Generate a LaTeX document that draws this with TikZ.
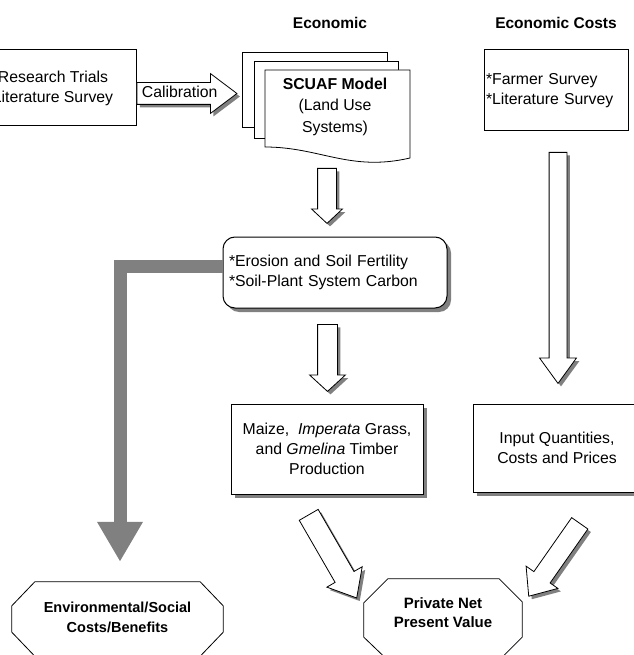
\documentclass[tikz,border=0pt]{standalone}
\usepackage{fontspec}
\setmainfont{Liberation Sans}
\usetikzlibrary{shapes.arrows, shadows, arrows.meta}

\begin{document}
\begin{tikzpicture}[x=1pt, y=-1pt,
		every node/.style={font=\fontsize{15.8}{20}\selectfont, inner sep=0pt},
		box/.style={draw, fill=white, line width=1pt},
		shadowed/.style={drop shadow={shadow xshift=4pt, shadow yshift=-4pt, fill=gray, opacity=1}},
		blockarrow/.style={single arrow, draw, fill=white, line width=0.8pt, inner xsep=0pt, drop shadow={shadow xshift=3pt, shadow yshift=-3pt, fill=gray, opacity=1}},
		octtext/.style={align=center, font=\fontsize{14.5}{20}\selectfont\bfseries},
		octline/.style={draw, fill=white, line width=0.8pt}]
		% \draw[help lines, step=50] (0,0) grid (633,655);
		\useasboundingbox (0,0) rectangle (633,655);

		\node (econ) at (330,23) [font=\fontsize{15.5}{18}\selectfont\bfseries] {Economic};
		\node (econcost) at (556,23) [font=\fontsize{15.5}{18}\selectfont\bfseries] {Economic Costs};

		\node (research) at (53,88) [box, minimum width=166pt, minimum height=76pt, align=center] {Research Trials\\Literature Survey};

		% stack of pages for the model
		\draw[fill=white, line width=0.8pt] (242,52) rectangle (387,127);
		\draw[fill=white, line width=0.8pt] (254,61) rectangle (398,138);
		\draw[fill=white, line width=0.8pt] (265,70) -- (410,70) -- (410,158) .. controls (350,172) and (320,147) .. (265,147) -- cycle;
		\node (scuaf) at (335,106.5) [align=center, font=\fontsize{15.8}{21.5}\selectfont] {\textbf{SCUAF Model}\\(Land Use\\Systems)};

		\node (farmer) at (556,90.5) [box, minimum width=144pt, minimum height=81pt, text width=140pt, align=left] {*Farmer Survey\\{}*Literature Survey};

		\node (soil) at (335,272.5) [box, rounded corners=12pt, shadowed, minimum width=224pt, minimum height=71pt, text width=212pt, align=left] {*Erosion and Soil Fertility\\{}*Soil-Plant System Carbon};

		\node (maize) at (327,449) [box, shadowed, minimum width=192pt, minimum height=90pt, align=center] {Maize,\ \ \textit{Imperata} Grass,\\and \textit{Gmelina} Timber\\Production};
		\node (input) at (557,448) [box, shadowed, minimum width=168pt, minimum height=88pt, align=center] {Input Quantities,\\Costs and Prices};

		% octagons
		\node (env) at (117.5,619) [minimum width=211pt, minimum height=74pt] {};
		\draw[octline] ([xshift=23pt]env.north west) -- ([xshift=-23pt]env.north east) -- ([yshift=-24pt]env.north east) -- ([yshift=24pt]env.south east) -- ([xshift=-23pt]env.south east) -- ([xshift=23pt]env.south west) -- ([yshift=24pt]env.south west) -- ([yshift=-24pt]env.north west) -- cycle;
		\node (envtext) at (117.5,617) [octtext] {Environmental/Social\\Costs/Benefits};
		\node (pnv) at (443,619.5) [minimum width=158pt, minimum height=81pt] {};
		\draw[octline] ([xshift=24pt]pnv.north west) -- ([xshift=-23pt]pnv.north east) -- ([yshift=-23pt]pnv.north east) -- ([yshift=23pt]pnv.south east) -- ([xshift=-23pt]pnv.south east) -- ([xshift=24pt]pnv.south west) -- ([yshift=23pt]pnv.south west) -- ([yshift=-24pt]pnv.north west) -- cycle;
		\node (pnvtext) at (443,612.5) [octtext, font=\fontsize{15}{19.5}\selectfont\bfseries] {Private Net\\Present Value};

		% block arrows
		\node (calib) at ([yshift=-5.5pt]research.east) [blockarrow, anchor=tail, text height=11pt, text depth=3.5pt, inner ysep=3.25pt, minimum height=100pt, single arrow head extend=9pt, single arrow tip angle=74] {Calibration};
		\node (a1) at (327,168) [blockarrow, anchor=tail, rotate=-90, inner ysep=9pt, minimum height=55pt, single arrow head extend=6pt, single arrow tip angle=94] {};
		\node (a2) at (327.5,324) [blockarrow, anchor=tail, rotate=-90, inner ysep=9.5pt, minimum height=67pt, single arrow head extend=8pt, single arrow tip angle=95] {};
		\node (a3) at (558,152) [blockarrow, anchor=tail, rotate=-90, inner ysep=8.5pt, minimum height=231pt, single arrow head extend=9.5pt, single arrow tip angle=72] {};
		\node (a4) at (308.5,514.5) [blockarrow, anchor=tail, rotate=-60, inner ysep=10.5pt, minimum height=96pt, single arrow head extend=9.5pt, single arrow tip angle=80] {};
		\node (a5) at (580,523) [blockarrow, anchor=tail, rotate=-125, inner ysep=9.5pt, minimum height=89pt, single arrow head extend=9.5pt, single arrow tip angle=80] {};

		\draw[line width=13pt, color=gray, -{Triangle[width=43pt, length=40pt]}, shorten >=20pt] ([yshift=6.5pt]soil.west) -| ([xshift=2.5pt]env.north);
	\end{tikzpicture}
\end{document}
